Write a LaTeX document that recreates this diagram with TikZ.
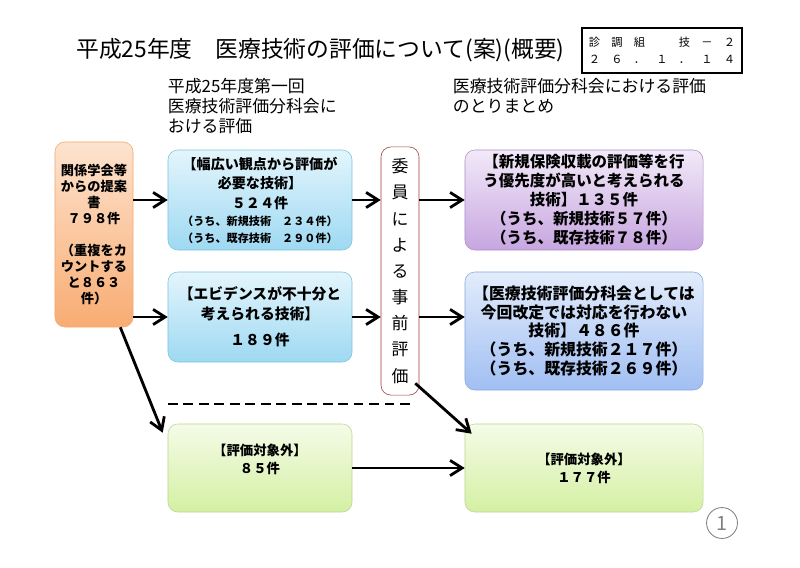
\documentclass[tikz,border=0pt]{standalone}
\usepackage{fontspec}
\setmainfont{Noto Sans CJK JP}
\usetikzlibrary{arrows.meta,positioning,calc}
\definecolor{OrgTop}{HTML}{FDE3CF}
\definecolor{OrgBot}{HTML}{F8AC72}
\definecolor{OrgLine}{HTML}{F3A86E}
\definecolor{CyanTop}{HTML}{E3F5FC}
\definecolor{CyanBot}{HTML}{9ED9F2}
\definecolor{CyanLine}{HTML}{7CC3DD}
\definecolor{PurTop}{HTML}{F2E9F8}
\definecolor{PurBot}{HTML}{C7A6E0}
\definecolor{PurLine}{HTML}{A990C9}
\definecolor{BluTop}{HTML}{E2ECFB}
\definecolor{BluBot}{HTML}{A1BFF3}
\definecolor{BluLine}{HTML}{8AA8DC}
\definecolor{GrnTop}{HTML}{F5FBE8}
\definecolor{GrnBot}{HTML}{D4F0A3}
\definecolor{GrnLine}{HTML}{B9D88F}
\definecolor{RevLine}{HTML}{A33B3E}

\begin{document}
\begin{tikzpicture}[x=0.025cm,y=0.025cm]
    \tikzset{panel/.style={rounded corners=7pt,draw,align=center,inner sep=2pt},
      orgbox/.style={panel,draw=OrgLine,top color=OrgTop,bottom color=OrgBot},
      cyanbox/.style={panel,draw=CyanLine,top color=CyanTop,bottom color=CyanBot},
      purbox/.style={panel,draw=PurLine,top color=PurTop,bottom color=PurBot},
      blubox/.style={panel,draw=BluLine,top color=BluTop,bottom color=BluBot},
      grnbox/.style={panel,draw=GrnLine,top color=GrnTop,bottom color=GrnBot},
      flow/.style={-{Straight Barb[length=3mm,width=3.8mm]},line width=2pt}}
    \useasboundingbox (0,0) rectangle (800,567);
    % heading
    \node[anchor=west,inner sep=0pt,font=\fontsize{16.2}{19}\selectfont] (title) at (76,517)
      {平成25年度　医療技術の評価について(案)(概要)};
    \node[draw,line width=1.2pt,minimum width=4cm,minimum height=1.125cm,align=left,
      font=\fontsize{8}{12}\selectfont] (stamp) at (662,516.5)
      {診　調　組　　　技　－　２\\２　６　．　１　．　１　４};
    \node[anchor=north west,align=left,font=\fontsize{12}{14.2}\selectfont] (sub1) at (163,494)
      {平成25年度第一回\\医療技術評価分科会に\\おける評価};
    \node[anchor=north west,align=left,font=\fontsize{12}{14.2}\selectfont] (sub2) at (448,494)
      {医療技術評価分科会における評価\\のとりまとめ};
    % proposals
    \node[orgbox,minimum width=1.95cm,minimum height=4.625cm,
      font=\bfseries\fontsize{9.4}{11.4}\selectfont] (org) at (94,332.5)
      {関係学会等\\からの提案\\書\\７９８件\\[11.4pt]（重複をカ\\ウントする\\と８６３\\件）};
    % first evaluation
    \node[cyanbox,minimum width=4.6cm,minimum height=2.5cm,
      font=\bfseries\fontsize{10}{14}\selectfont] (b1) at (260,367)
      {【幅広い観点から評価が\\必要な技術】\\５２４件\\[-2pt]
       {\fontsize{7.9}{11}\selectfont （うち、新規技術　２３４件）}\\[-2pt]
       {\fontsize{7.9}{11}\selectfont （うち、既存技術　２９０件）}};
    \node[cyanbox,minimum width=4.6cm,minimum height=2.25cm,
      font=\bfseries\fontsize{10.5}{14.5}\selectfont] (b2) at (260,250)
      {【エビデンスが不十分と\\考えられる技術】\\[4pt]１８９件};
    \node[grnbox,minimum width=4.6cm,minimum height=2.2cm,
      font=\bfseries\fontsize{9.5}{12.8}\selectfont] (g1) at (260,99)
      {【評価対象外】\\８５件\\\mbox{}};
    % committee
    \node[panel,draw=RevLine,fill=white,minimum width=0.95cm,minimum height=6.2cm,
      font=\fontsize{12}{18.6}\selectfont] (rev) at (400,296)
      {委\\員\\に\\よ\\る\\事\\前\\評\\価};
    % summary
    \node[purbox,minimum width=5.95cm,minimum height=2.5cm,
      font=\bfseries\fontsize{11}{13.5}\selectfont] (pur) at (584,367)
      {【新規保険収載の評価等を行\\う優先度が高いと考えられる\\技術】１３５件\\（うち、新規技術５７件）\\（うち、既存技術７８件）};
    \node[blubox,minimum width=5.95cm,minimum height=2.95cm,
      font=\bfseries\fontsize{11.3}{13.5}\selectfont] (bR) at (584,236)
      {【医療技術評価分科会としては\\今回改定では対応を行わない\\技術】４８６件\\（うち、新規技術２１７件）\\（うち、既存技術２６９件）};
    \node[grnbox,minimum width=5.95cm,minimum height=2.2cm,
      font=\bfseries\fontsize{9.5}{12.8}\selectfont] (g2) at (584,99)
      {【評価対象外】\\１７７件};
    \node[circle,draw=gray,line width=0.6pt,minimum size=0.75cm,text=gray,
      font=\fontsize{14}{14}\selectfont] (pgno) at (722,44) {1};
    % separator
    \coordinate (sepL) at (168,163);
    \coordinate (sepR) at (415,163);
    \draw[line width=1.4pt,dash pattern=on 7pt off 4pt] (sepL) -- (sepR);
    % arrows
    \draw[flow] (org.east |- b1.west) -- (b1.west);
    \draw[flow] (org.east |- b2.west) -- (b2.west);
    \draw[flow] ($(org.south east)+(-13,0)$) -- ($(g1.north west)+(-5,-9)$);
    \draw[flow] (b1.east) -- (b1.east -| rev.west);
    \draw[flow] (b2.east) -- (b2.east -| rev.west);
    \draw[flow] (rev.east |- pur.west) -- (pur.west);
    \draw[flow] (rev.east |- b2.east) -- (bR.west |- b2.east);
    \draw[flow] ($(rev.south east)+(-4,12)$) -- ($(g2.north west)+(7,-10)$);
    \draw[flow] (g1.east) -- (g2.west);
  \end{tikzpicture}
\end{document}
